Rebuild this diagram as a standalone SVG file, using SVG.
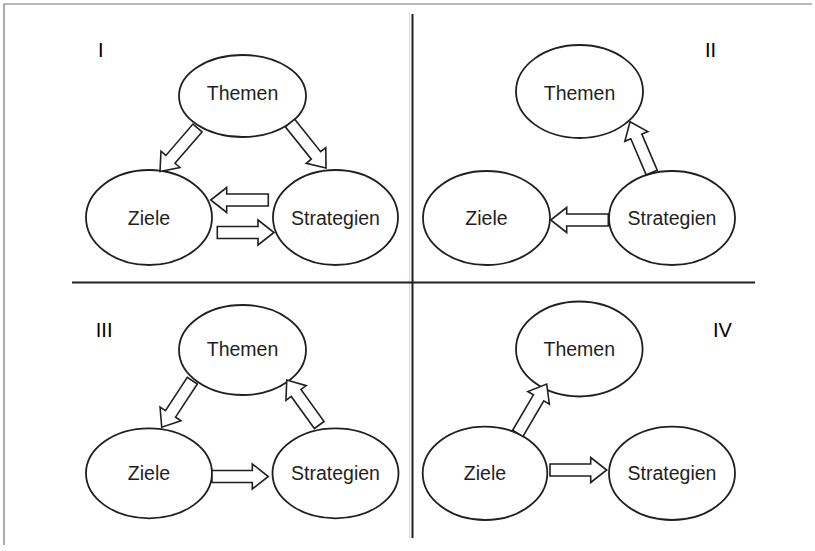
<svg xmlns="http://www.w3.org/2000/svg" width="815" height="551" viewBox="0 0 815 551">
<style>
.n{fill:#fff;stroke:#231f20;stroke-width:1.8}
.t{font-family:"Liberation Sans",Arial,sans-serif;font-size:19.5px;fill:#231f20;text-anchor:middle}
.q{font-family:"Liberation Sans",Arial,sans-serif;font-size:20px;fill:#000}
.a{fill:#fff;stroke:#231f20;stroke-width:1.6;stroke-linejoin:miter}
.d{stroke:#231f20;stroke-width:2;fill:none}
</style>
<rect width="815" height="551" fill="#fff"/>
<g id="frame">
<path d="M4,545 V4 H812" fill="none" stroke="#777" stroke-width="1.2"/>
<line x1="409.5" y1="13" x2="409.5" y2="538" stroke="#d8d8d8" stroke-width="1"/>
<line class="d" x1="412.5" y1="14" x2="412.5" y2="538"/>
<line class="d" x1="72" y1="282.5" x2="755" y2="282.5"/>
</g>
<g id="labels">
<text class="q" x="98" y="56.7">I</text>
<text class="q" x="705" y="56.7">II</text>
<text class="q" x="95.8" y="336.7">III</text>
<text class="q" x="713" y="337">IV</text>
</g>
<g id="I-themen"><ellipse class="n" cx="242.5" cy="96" rx="63.5" ry="41"/><text class="t" x="242.5" y="100">Themen</text></g>
<g id="I-ziele"><ellipse class="n" cx="149" cy="217.5" rx="63" ry="47.5"/><text class="t" x="149" y="225">Ziele</text></g>
<g id="I-strategien"><ellipse class="n" cx="335.5" cy="217.5" rx="62.5" ry="47.5"/><text class="t" x="335.5" y="225">Strategien</text></g>
<g id="II-themen"><ellipse class="n" cx="579.5" cy="91.5" rx="63.5" ry="46.5"/><text class="t" x="579.5" y="100">Themen</text></g>
<g id="II-ziele"><ellipse class="n" cx="486.5" cy="218" rx="63.5" ry="47"/><text class="t" x="486.5" y="225">Ziele</text></g>
<g id="II-strategien"><ellipse class="n" cx="672" cy="218" rx="63" ry="47"/><text class="t" x="672" y="225">Strategien</text></g>
<g id="III-themen"><ellipse class="n" cx="242.5" cy="350" rx="63.5" ry="45"/><text class="t" x="242.5" y="356">Themen</text></g>
<g id="III-ziele"><ellipse class="n" cx="149" cy="473.3" rx="63" ry="45"/><text class="t" x="149" y="480">Ziele</text></g>
<g id="III-strategien"><ellipse class="n" cx="335.5" cy="473.3" rx="63" ry="45"/><text class="t" x="335.5" y="480">Strategien</text></g>
<g id="IV-themen"><ellipse class="n" cx="579.3" cy="349" rx="63.3" ry="47.5"/><text class="t" x="579.3" y="356">Themen</text></g>
<g id="IV-ziele"><ellipse class="n" cx="485" cy="473.3" rx="62.3" ry="46.7"/><text class="t" x="485" y="480">Ziele</text></g>
<g id="IV-strategien"><ellipse class="n" cx="672" cy="473.3" rx="63" ry="46.7"/><text class="t" x="672" y="480">Strategien</text></g>
<g id="connectors">
<polygon class="a" transform="translate(197.5,128) rotate(130.8)" points="0,-6 41.4,-6 41.4,-12.5 57.4,0 41.4,12.5 41.4,6 0,6"/>
<polygon class="a" transform="translate(290,123) rotate(51.3)" points="0,-6 41.6,-6 41.6,-12.5 57.6,0 41.6,12.5 41.6,6 0,6"/>
<polygon class="a" transform="translate(268.3,200) rotate(180)" points="0,-6 41.6,-6 41.6,-12.5 57.6,0 41.6,12.5 41.6,6 0,6"/>
<polygon class="a" transform="translate(217.3,232.5)" points="0,-6 40.7,-6 40.7,-12.5 56.7,0 40.7,12.5 40.7,6 0,6"/>
<polygon class="a" transform="translate(651.7,172.5) rotate(-113.1)" points="0,-6 39.2,-6 39.2,-12.5 55.2,0 39.2,12.5 39.2,6 0,6"/>
<polygon class="a" transform="translate(608.3,220) rotate(180)" points="0,-6 41.6,-6 41.6,-12.5 57.6,0 41.6,12.5 41.6,6 0,6"/>
<polygon class="a" transform="translate(192.3,380.7) rotate(123.3)" points="0,-6 39.7,-6 39.7,-12.5 55.7,0 39.7,12.5 39.7,6 0,6"/>
<polygon class="a" transform="translate(319.2,425) rotate(-125.8)" points="0,-6 39.5,-6 39.5,-12.5 55.5,0 39.5,12.5 39.5,6 0,6"/>
<polygon class="a" transform="translate(212,476.5)" points="0,-6 40.3,-6 40.3,-12.5 56.3,0 40.3,12.5 40.3,6 0,6"/>
<polygon class="a" transform="translate(517.8,433.3) rotate(-59.6)" points="0,-6 41.1,-6 41.1,-12.5 57.1,0 41.1,12.5 41.1,6 0,6"/>
<polygon class="a" transform="translate(550,470)" points="0,-6 40.7,-6 40.7,-12.5 56.7,0 40.7,12.5 40.7,6 0,6"/>
</g>
</svg>
